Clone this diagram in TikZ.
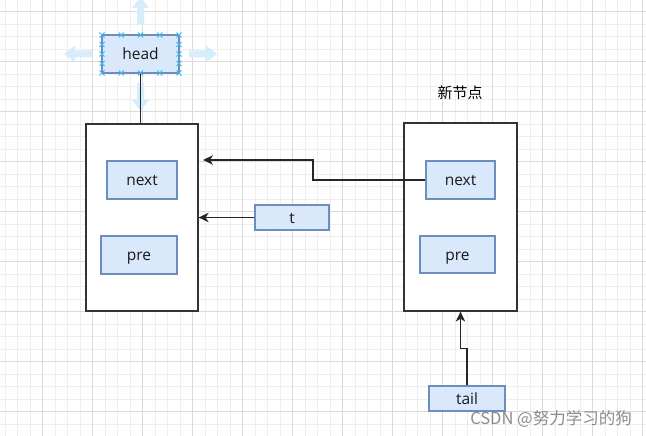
\documentclass[tikz,border=0pt]{standalone}
\usepackage{fontspec}
\setmainfont{Open Sans}
\newfontfamily\cjk{Noto Sans CJK SC}
\usetikzlibrary{arrows.meta}
\definecolor{cellfill}{HTML}{DAE8FC}
\definecolor{cellline}{HTML}{6C8EBF}
\definecolor{gridminor}{HTML}{EEEEEE}
\definecolor{gridmajor}{HTML}{DADADA}
\definecolor{hoverblue}{HTML}{D6EEFB}
\definecolor{pickblue}{HTML}{3DB6EF}

\begin{document}
\begin{tikzpicture}[x=1pt,y=-1pt,
  cell/.style={draw=cellline,fill=cellfill,line width=1.1pt,inner sep=0pt,
    text=black!90,font=\fontsize{15.5}{18}\selectfont,text depth=0pt,text height=11pt},
  frame/.style={draw=black!80,fill=white,line width=1.3pt,inner sep=0pt},
  link/.style={draw=black!85,line width=1.2pt,-{Stealth[length=10pt,width=9.5pt,inset=3pt]}},
  hover/.style={fill=hoverblue},
  pick/.style={draw=pickblue,line width=0.8pt}]
  \useasboundingbox[fill=white] (0,0) rectangle (646,436);
  % grid
  \foreach \x in {4.8,17.3,...,646} \draw[gridminor,line width=0.6pt] (\x,0) -- (\x,436);
  \foreach \y in {11.7,24.2,...,436} \draw[gridminor,line width=0.6pt] (0,\y) -- (646,\y);
  \foreach \x in {42.3,92.3,...,646} \draw[gridmajor,line width=0.8pt] (\x,0) -- (\x,436);
  \foreach \y in {11.7,61.7,...,436} \draw[gridmajor,line width=0.8pt] (0,\y) -- (646,\y);
  % hover arrows round head
  \foreach \pos/\ang in {{(189,54)}/0,{(92,54)}/180,{(140.5,25)}/90,{(140.5,83)}/-90}
    \path[hover,shift=\pos,rotate=\ang] (0,-3.5) -- (17,-3.5) -- (17,-8.5) -- (28,0)
      -- (17,8.5) -- (17,3.5) -- (0,3.5) -- cycle;

  \node[frame,minimum width=112pt,minimum height=187pt] (leftbox) at (142,217.5) {};
  \node[frame,minimum width=113pt,minimum height=188pt] (rightbox) at (460.5,217) {};

  \node[cell,minimum width=77pt,minimum height=38pt] (head) at (140.5,54) {head};
  \node[cell,minimum width=70pt,minimum height=38pt] (leftnext) at (142,180) {next};
  \node[cell,minimum width=76pt,minimum height=38pt] (leftpre) at (139,255) {pre};
  \node[cell,minimum width=74pt,minimum height=25pt] (t) at (292,217.5) {t};
  \node[cell,minimum width=69pt,minimum height=38pt] (rightnext) at (460.5,180) {next};
  \node[cell,minimum width=75pt,minimum height=37pt] (rightpre) at (457.5,254.5) {pre};
  \node[cell,minimum width=76pt,minimum height=25pt] (tail) at (467,398.5) {tail};
  \node[font=\cjk\fontsize{15}{18}\selectfont] (newlabel) at (460,93) {新节点};
  \node[anchor=east,inner sep=0pt,text=black!45,font=\cjk\fontsize{16.5}{18}\selectfont]
    (mark) at (632,418.5) {CSDN @努力学习的狗};

  \coordinate (jog) at (313,0);
  \coordinate (nextin) at (203,160);
  \draw[draw=black!85,line width=1.3pt] (head.south) -- (head.south |- leftbox.north);
  \draw[link] (rightnext.west) -- (rightnext.west -| jog) |- (nextin);
  \draw[link] (t.west) -- (t.west -| leftbox.east);
  \draw[link] (tail.north) -- ++(0,-37) -| (rightbox.south);

  % selection marks on head
  \foreach \x in {102,121.25,140.5,159.75,179}
    \foreach \y in {35,73}
      \draw[pick] (\x-2.5,\y-2.5) -- ++(5,5) (\x-2.5,\y+2.5) -- ++(5,-5);
  \foreach \y in {44.5,54,63.5}
    \foreach \x in {102,179}
      \draw[pick] (\x-2.5,\y-2.5) -- ++(5,5) (\x-2.5,\y+2.5) -- ++(5,-5);
\end{tikzpicture}
\end{document}
